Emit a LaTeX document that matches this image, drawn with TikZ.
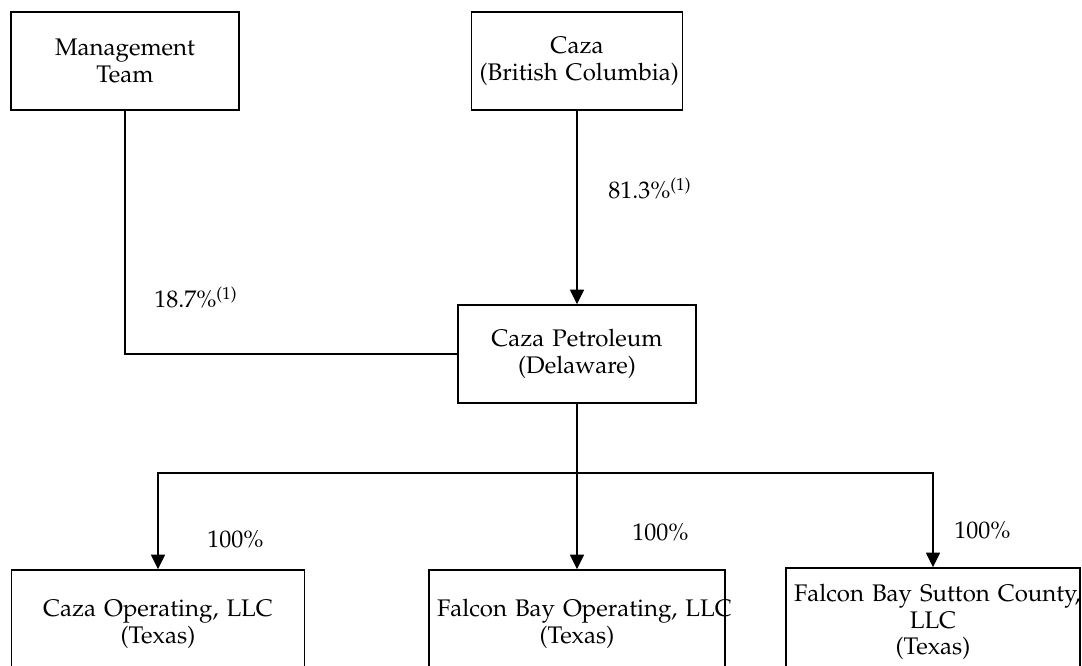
\documentclass[tikz,border=0pt]{standalone}
\usepackage[T1]{fontenc}
\usepackage{palatino}
\usetikzlibrary{arrows.meta}
\tikzstyle{block} = [draw, line width=1.1pt, align=center, inner xsep=6pt, inner ysep=4pt, font=\fontsize{18}{20}\selectfont]
\tikzstyle{pct} = [anchor=base west, inner sep=0pt, font=\fontsize{18}{20}\selectfont]
\tikzstyle{line} = [line width=1.1pt]
\tikzstyle{arrow} = [line width=1.1pt, -{Triangle[width=10.5pt,length=11pt]}]
\newcommand{\fnref}{\textsuperscript{\fontsize{13}{14}\selectfont(1)}}

\begin{document}
\begin{tikzpicture}[x=0.75pt, y=-0.75pt]
        \clip (0,0) rectangle (1082,666);
        %Blocks
        \node [block, text width=159pt, minimum height=73.5pt] (mgmt) at (125,61) {\mbox{Management}\\\mbox{Team}};
        \node [block, text width=146pt, minimum height=73.5pt] (caza) at (577,61) {\mbox{Caza}\\\mbox{(British Columbia)}};
        \node [block, text width=166.5pt, minimum height=73.5pt] (petro) at (577,354) {\mbox{Caza Petroleum}\\\mbox{(Delaware)}};
        \node [block, text width=208pt, minimum height=81pt] (cazaop) at (158,624) {\mbox{Caza Operating, LLC}\\\mbox{(Texas)}};
        \node [block, text width=210pt, minimum height=81pt] (falconop) at (577,624) {\mbox{Falcon Bay Operating, LLC}\\\mbox{(Texas)}};
        \node [block, text width=208.5pt, minimum height=81pt] (sutton) at (933,622) {\mbox{Falcon Bay Sutton County,}\\\mbox{LLC}\\\mbox{(Texas)}};
        \coordinate (bus) at (577,473);
        %Labels
        \node [pct] (pmgmt) at (154,308) {18.7\%\fnref};
        \node [pct] (pcaza) at (608,199) {81.3\%\fnref};
        \node [pct] (pcazaop) at (207,547) {100\%};
        \node [pct] (pfalconop) at (632,540) {100\%};
        \node [pct] (psutton) at (954,538) {100\%};
        %Arrows
        \draw [line] (mgmt) |- (petro);
        \draw [arrow] (caza) -- (petro);
        \draw [line] (petro) -- (bus);
        \draw [arrow] (bus) -| (cazaop);
        \draw [arrow] (bus) -- (falconop);
        \draw [arrow] (bus) -| (sutton);
    \end{tikzpicture}
\end{document}
